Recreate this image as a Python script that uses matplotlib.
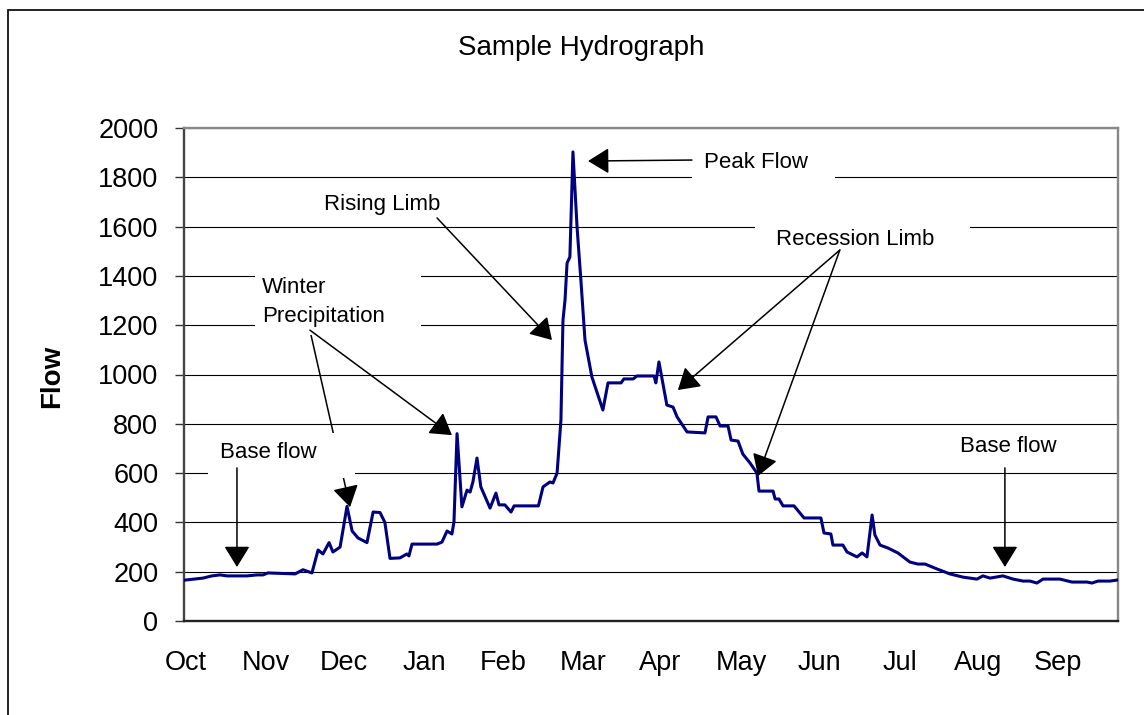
import matplotlib
matplotlib.use("Agg")
import matplotlib.pyplot as plt
from matplotlib.patches import Rectangle, FancyArrowPatch

plt.rcParams['font.family'] = ['Liberation Sans', 'DejaVu Sans']

# ---- data (day of water year, flow) ----
days = [0.4, 7.4, 10.9, 14.1, 16.8, 24.6, 28.5, 30.9, 32.8, 43.4, 46.5, 50.0, 52.4, 54.3,
        56.7, 58.2, 61.0, 63.7, 65.7, 68.0, 71.5, 73.9, 76.6, 78.5, 80.5, 84.4, 87.1, 87.9,
        89.1, 98.9, 100.8, 102.8, 104.7, 105.5, 106.7, 108.6, 110.6, 111.8, 112.9, 114.5,
        116.0, 119.6, 121.9, 123.1, 125.4, 127.8, 129.0, 138.5, 140.3, 143.0, 144.2, 145.8,
        147.3, 148.1, 148.9, 149.7, 150.8, 152.0, 153.6, 155.1, 156.7, 159.4, 163.7, 165.7,
        170.8, 171.9, 175.5, 177.0, 183.7, 184.4, 185.6, 188.7, 191.1, 192.7, 196.6, 203.6,
        204.8, 207.9, 209.5, 212.6, 213.8, 216.5, 218.4, 221.2, 223.9, 224.7, 230.2, 231.0,
        232.5, 234.1, 238.4, 242.3, 248.9, 250.1, 252.8, 253.6, 257.5, 259.1, 263.0, 265.0,
        266.9, 268.9, 270.0, 272.0, 275.1, 279.0, 283.7, 286.8, 289.6, 294.3, 299.3, 304.4,
        309.9, 312.2, 315.0, 320.0, 324.0, 327.9, 330.6, 333.3, 335.7, 342.3, 347.0, 352.9,
        354.8, 357.2, 361.9, 364.6]
flow = [166, 174, 183, 187, 183, 183, 187, 187, 195, 191, 208, 195, 288, 272,
        318, 280, 300, 465, 365, 337, 318, 442, 440, 400, 254, 256, 272, 264,
        312, 312, 320, 365, 353, 402, 760, 463, 531, 523, 564, 661,
        544, 458, 519, 471, 471, 442, 467, 467, 544, 564, 560, 600,
        815, 1221, 1302, 1452, 1477, 1903, 1598, 1383, 1140, 990, 856, 966,
        966, 982, 982, 994, 994, 966, 1051, 876, 868, 828, 767, 763,
        828, 828, 791, 791, 734, 730, 677, 641, 600, 527, 527, 495,
        495, 467, 467, 418, 418, 357, 353, 308, 308, 280, 260, 276,
        260, 430, 349, 308, 296, 276, 239, 231, 231, 211, 191, 178,
        170, 183, 174, 183, 170, 162, 162, 154, 170, 170, 158, 158,
        154, 162, 162, 166]

month_labels = ['Oct', 'Nov', 'Dec', 'Jan', 'Feb', 'Mar', 'Apr', 'May', 'Jun', 'Jul', 'Aug', 'Sep']
month_pos = [0.8, 32.0, 62.5, 93.8, 124.7, 155.9, 186.0, 217.7, 248.5, 279.8, 310.3, 341.5]
y_ticks = [0, 200, 400, 600, 800, 1000, 1200, 1400, 1600, 1800, 2000]

W, H = 1144, 715
fig = plt.figure(figsize=(W / 100, H / 100), dpi=100)
fig.patch.set_facecolor('white')

# outer chart frame (runs off the right and bottom edges)
fig.add_artist(Rectangle((8 / W, -0.05), 1.2, 1 - 10 / H + 0.05, transform=fig.transFigure,
                         fill=False, edgecolor='#111111', lw=1.3))

ax = fig.add_axes([184 / W, 1 - 621 / H, (1118 - 184) / W, (621 - 128) / H])
ax.plot(days, flow, color='#000080', lw=2.2, zorder=3, solid_joinstyle='round')
ax.set_xlim(0, 365)
ax.set_ylim(0, 2000)
ax.set_yticks(y_ticks)
ax.set_xticks(month_pos)
ax.set_xticklabels(month_labels)
ax.tick_params(axis='x', length=0, pad=21, labelsize=19.5)
ax.tick_params(axis='y', length=6.5, width=1.0, pad=12, labelsize=19.5, color='#333333')
ax.yaxis.grid(True, color='black', lw=0.8)
ax.set_axisbelow(True)
for side, c in [('left', '#444444'), ('bottom', '#222222'), ('top', '#888888'), ('right', '#888888')]:
    ax.spines[side].set_color(c)
    ax.spines[side].set_linewidth(1.7)

fig.text(581 / W, 1 - 48 / H, 'Sample Hydrograph', ha='center', va='center', fontsize=20)
fig.text(52 / W, 1 - 376 / H, 'Flow', ha='center', va='center', rotation=90,
         fontsize=20, fontweight='bold')

def box(x0, x1, y0, y1, z=1.5):
    ax.add_patch(Rectangle((x0, y0), x1 - x0, y1 - y0, facecolor='white',
                           edgecolor='none', zorder=z))

def arrow(tail, tip, z=4):
    ax.add_patch(FancyArrowPatch(tail, tip,
                                 arrowstyle='-|>,head_length=0.65,head_width=0.4',
                                 mutation_scale=20, color='black', lw=1.1, zorder=z,
                                 shrinkA=0, shrinkB=0))

tfs = 16
# Winter precipitation
box(27.7, 92.6, 1160, 1456)
ax.text(30.5, 1331, 'Winter', ha='left', va='baseline', fontsize=tfs, zorder=5)
ax.text(30.5, 1213, 'Precipitation', ha='left', va='baseline', fontsize=tfs, zorder=5)
arrow((49.2, 1180), (64.9, 462), z=1.2)
arrow((49.2, 1180), (104.7, 754))

# Base flow (left)
box(9.4, 66.8, 580, 763)
ax.text(33.0, 661, 'Base flow', ha='center', va='baseline', fontsize=tfs, zorder=5)
arrow((20.7, 621), (20.7, 219))

# Rising limb
ax.text(77.4, 1667, 'Rising Limb', ha='center', va='baseline', fontsize=tfs, zorder=5)
arrow((98.9, 1635), (143.8, 1140))

# Peak flow
box(198.5, 254.4, 1781, 1951)
ax.text(223.5, 1838, 'Peak Flow', ha='center', va='baseline', fontsize=tfs, zorder=5)
arrow((198.5, 1870), (157.9, 1866))

# Recession limb
box(223.0, 307.0, 1485, 1688)
ax.text(262.2, 1525, 'Recession Limb', ha='center', va='baseline', fontsize=tfs, zorder=5)
arrow((256.3, 1505), (193.0, 937))
arrow((256.3, 1505), (224.3, 588))

# Base flow (right)
ax.text(322.0, 686, 'Base flow', ha='center', va='baseline', fontsize=tfs, zorder=5)
arrow((320.8, 621), (320.8, 219))

fig.savefig('out.png', dpi=100, facecolor='white')
